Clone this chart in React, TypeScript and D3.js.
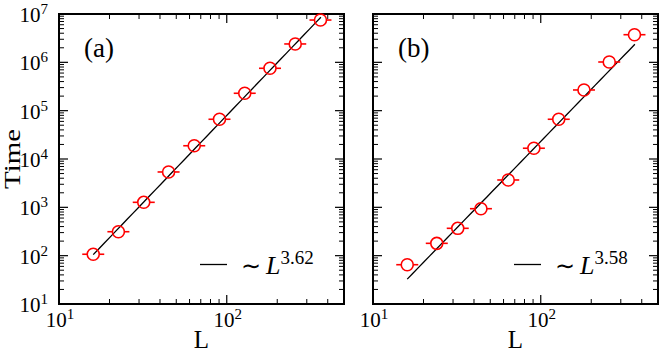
import * as d3 from "d3";

// panel (a)
const sizesA = [16, 22.6, 32, 45, 64, 90.5, 128, 181, 256, 362];
const timesA = [107, 313, 1270, 5390, 18800, 66400, 229000, 753000, 2400000, 7500000];
const expA = 3.62;
const prefA = 0.00459;
// panel (b)
const sizesB = [16, 24, 32, 44, 64, 91, 128, 181, 256, 362];
const timesB = [65, 180, 368, 937, 3680, 16700, 66400, 268000, 1016000, 3730000];
const expB = 3.58;
const prefB = 0.0016;

const fitRange = [16, 364];
const xDomain = [10, 500];
const yDomain = [10, 1e7];
const yMajor = [1, 2, 3, 4, 5, 6, 7];
const xMajor = [1, 2];

const W = 664, H = 354;
const top = 14, bottom = 304, pw = 285;
const font = "'Liberation Serif', 'Times New Roman', serif";

function Panel({ left, sizes, times, expo, pref, tag, showY }) {
  const x = d3.scaleLog().domain(xDomain).range([left, left + pw]);
  const y = d3.scaleLog().domain(yDomain).range([bottom, top]);

  const yMinor = [];
  for (let e = 1; e < 7; e++) for (let m = 2; m <= 9; m++) yMinor.push(m * 10 ** e);
  const xMinor = [20, 30, 40, 50, 60, 70, 80, 90, 200, 300, 400];

  const fit = d3.range(0, 41).map(i => {
    const L = fitRange[0] * (fitRange[1] / fitRange[0]) ** (i / 40);
    return [L, pref * L ** expo];
  });
  const line = d3.line().x(d => x(d[0])).y(d => y(d[1]));

  const r = 6, bar = 11;
  const lx = left + 141;

  return (
    <g>
      {/* ticks on all four sides, pointing in */}
      {yMajor.map(e => (
        <g key={"ym" + e} stroke="#000" strokeWidth={1.2}>
          <line x1={left} x2={left + 9} y1={y(10 ** e)} y2={y(10 ** e)} />
          <line x1={left + pw} x2={left + pw - 9} y1={y(10 ** e)} y2={y(10 ** e)} />
        </g>
      ))}
      {yMinor.map(v => (
        <g key={"yn" + v} stroke="#000" strokeWidth={1}>
          <line x1={left} x2={left + 5} y1={y(v)} y2={y(v)} />
          <line x1={left + pw} x2={left + pw - 5} y1={y(v)} y2={y(v)} />
        </g>
      ))}
      {xMajor.map(e => (
        <g key={"xm" + e} stroke="#000" strokeWidth={1.2}>
          <line x1={x(10 ** e)} x2={x(10 ** e)} y1={bottom} y2={bottom - 9} />
          <line x1={x(10 ** e)} x2={x(10 ** e)} y1={top} y2={top + 9} />
        </g>
      ))}
      {xMinor.map(v => (
        <g key={"xn" + v} stroke="#000" strokeWidth={1}>
          <line x1={x(v)} x2={x(v)} y1={bottom} y2={bottom - 5} />
          <line x1={x(v)} x2={x(v)} y1={top} y2={top + 5} />
        </g>
      ))}
      <rect x={left} y={top} width={pw} height={bottom - top} fill="none" stroke="#000" strokeWidth={2} />

      {showY && yMajor.map(e => (
        <text key={"yl" + e} x={left - 11} y={y(10 ** e) + 8} textAnchor="end" fontSize={21} fontFamily={font}>
          10<tspan fontSize={15} dy={-8}>{e}</tspan>
        </text>
      ))}
      {xMajor.map(e => (
        <text key={"xl" + e} x={x(10 ** e) + 1} y={327} textAnchor="middle" fontSize={21} fontFamily={font}>
          10<tspan fontSize={15} dy={-8}>{e}</tspan>
        </text>
      ))}
      <text x={left + pw / 2} y={348} textAnchor="middle" fontSize={25} fontFamily={font}>L</text>
      <text x={left + 25} y={57} fontSize={27} fontFamily={font}>{tag}</text>

      <path d={line(fit)} fill="none" stroke="#000" strokeWidth={1.3} />

      {sizes.map((L, i) => {
        const cx = x(L), cy = y(times[i]);
        return (
          <g key={"p" + i} stroke="#ff0000" strokeWidth={1.6} fill="none">
            <line x1={cx - bar} x2={cx - r} y1={cy} y2={cy} />
            <line x1={cx + r} x2={cx + bar} y1={cy} y2={cy} />
            <circle cx={cx} cy={cy} r={r} />
          </g>
        );
      })}

      {/* legend */}
      <line x1={lx} x2={lx + 27} y1={264.5} y2={264.5} stroke="#000" strokeWidth={1.3} />
      <text x={lx + 41} y={274} fontSize={26} fontFamily={font}>
        <tspan fontFamily="'DejaVu Sans', sans-serif" fontSize={24}>∼</tspan>
        <tspan dx={5} fontStyle="italic">L</tspan>
        <tspan fontSize={19} dy={-10}>{expo.toFixed(2)}</tspan>
      </text>
    </g>
  );
}

export default function App() {
  return (
    <svg width={W} height={H} style={{ position: "absolute", left: 0, top: 0, background: "#fff" }}>
      <rect width={W} height={H} fill="#fff" />
      <text transform={`translate(19.5,159) rotate(-90)`} textAnchor="middle" fontSize={24}
        fontFamily={font} textLength={60} lengthAdjust="spacingAndGlyphs">Time</text>
      <Panel left={59} sizes={sizesA} times={timesA} expo={expA} pref={prefA} tag="(a)" showY={true} />
      <Panel left={373} sizes={sizesB} times={timesB} expo={expB} pref={prefB} tag="(b)" showY={false} />
    </svg>
  );
}
